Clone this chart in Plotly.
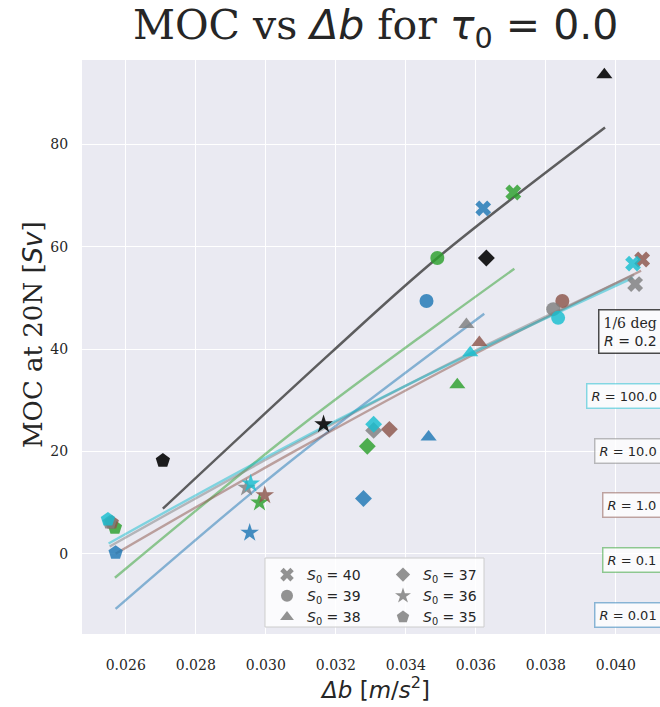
import plotly.graph_objects as go

# ---------------- data ----------------
series_names = ["R = 0.01", "R = 0.1", "R = 1.0", "R = 10.0", "R = 100.0", "1/6 deg R = 0.2"]
series_colors = ["#1f77b4", "#2ca02c", "#8c564b", "#7f7f7f", "#17becf", "#111111"]

s0_labels = ["40", "39", "38", "37", "36", "35"]
s0_symbols = ["x", "circle", "triangle-up", "diamond", "star", "pentagon"]
s0_sizes = [14, 14, 14, 13, 14, 15]

# marker values, order S0 = 40, 39, 38, 37, 36, 35  (None = not present)
db_R001 = [0.03621, 0.03459, 0.03465, 0.03279, 0.02954, 0.02571]
moc_R001 = [67.5, 49.4, 22.8, 10.8, 4.1, 0.2]
db_R01 = [0.03707, 0.03490, 0.03547, 0.03290, 0.02982, 0.02569]
moc_R01 = [70.6, 57.8, 33.0, 21.0, 10.0, 5.1]
db_R1 = [0.04075, 0.03847, 0.03610, 0.03353, 0.02997, 0.02560]
moc_R1 = [57.5, 49.4, 41.3, 24.3, 11.4, 6.1]
db_R10 = [0.04055, 0.03821, 0.03573, 0.03308, 0.02945, 0.02554]
moc_R10 = [52.7, 47.8, 44.8, 24.1, 12.9, 6.1]
db_R100 = [0.04049, 0.03835, 0.03584, 0.03308, 0.02957, 0.02549]
moc_R100 = [56.7, 46.1, 39.3, 25.3, 13.7, 6.7]
db_hr = [None, None, 0.03967, 0.03630, 0.03165, 0.02706]
moc_hr = [None, None, 93.6, 57.8, 25.3, 18.2]

# fitted curves
fit_db_R001 = [0.02571, 0.03042, 0.03624]
fit_moc_R001 = [-10.8, 16.5, 46.9]
fit_db_R01 = [0.02569, 0.03099, 0.03504, 0.03710]
fit_moc_R01 = [-4.7, 24.9, 45.5, 55.7]
fit_db_R1 = [0.02571, 0.03071, 0.03584, 0.04072]
fit_moc_R1 = [0.0, 19.6, 38.6, 55.3]
fit_db_R10 = [0.02554, 0.03071, 0.03584, 0.04052]
fit_moc_R10 = [1.4, 21.0, 39.2, 54.5]
fit_db_R100 = [0.02551, 0.03071, 0.03584, 0.04049]
fit_moc_R100 = [2.0, 21.4, 39.0, 53.9]
fit_db_hr = [0.02706, 0.03185, 0.03490, 0.03969]
fit_moc_hr = [8.8, 39.2, 57.8, 83.3]

x_ticks = [0.026, 0.028, 0.030, 0.032, 0.034, 0.036, 0.038, 0.040]
x_ticktext = ["0.026", "0.028", "0.030", "0.032", "0.034", "0.036", "0.038", "0.040"]
y_ticks = [0, 20, 40, 60, 80]
y_ticktext = ["0", "20", "40", "60", "80"]

# ---------------- figure ----------------
W, H = 660, 707
L, R, T, B = 82, 0, 60, 73
PW, PH = W - L - R, H - T - B


def px_x(px):
    return (px - L) / PW


def px_y(py):
    return (H - B - py) / PH


BG = "#EAEAF2"
SERIF = "DejaVu Serif"
SANS = "DejaVu Sans"
TXT = "#262626"

fig = go.Figure()

marker_sets = [
    (db_R001, moc_R001), (db_R01, moc_R01), (db_R1, moc_R1),
    (db_R10, moc_R10), (db_R100, moc_R100), (db_hr, moc_hr),
]
fit_sets = [
    (fit_db_R001, fit_moc_R001), (fit_db_R01, fit_moc_R01), (fit_db_R1, fit_moc_R1),
    (fit_db_R10, fit_moc_R10), (fit_db_R100, fit_moc_R100), (fit_db_hr, fit_moc_hr),
]

# fit lines
for i, (fx, fy) in enumerate(fit_sets):
    is_hr = i == 5
    fig.add_trace(go.Scatter(
        x=fx, y=fy, mode="lines", line_shape="spline",
        line=dict(color="#3a3a3a" if is_hr else series_colors[i], width=2.5 if is_hr else 2.4),
        opacity=0.8 if is_hr else 0.5, showlegend=False, hoverinfo="skip"))

# markers
for i, (mx, my) in enumerate(marker_sets):
    for j in range(len(s0_labels)):
        if mx[j] is None:
            continue
        fig.add_trace(go.Scatter(
            x=[mx[j]], y=[my[j]], mode="markers",
            marker=dict(symbol=s0_symbols[j], size=s0_sizes[j], color=series_colors[i],
                        opacity=0.95 if i == 5 else 0.82, line=dict(width=0)),
            showlegend=False, hoverinfo="skip"))

# legend entries (grey symbols), two columns via two legends
for j in range(len(s0_labels)):
    fig.add_trace(go.Scatter(
        x=[None], y=[None], mode="markers",
        marker=dict(symbol=s0_symbols[j], size=s0_sizes[j] - 2, color="#7f7f7f", opacity=0.85,
                    line=dict(width=0)),
        name=f"<i>S</i><sub>0</sub> = {s0_labels[j]}",
        legend="legend" if j < 3 else "legend2"))

leg_common = dict(bgcolor="rgba(0,0,0,0)", borderwidth=0, yanchor="top", xanchor="left",
                  font=dict(family=SANS, size=14, color=TXT), tracegroupgap=0,
                  itemsizing="trace")
fig.update_layout(
    legend=dict(x=px_x(267), y=px_y(559), **leg_common),
    legend2=dict(x=px_x(383), y=px_y(559), **leg_common),
)

# legend frame
fig.add_shape(type="rect", xref="paper", yref="paper",
              x0=px_x(265), x1=px_x(484), y0=px_y(627), y1=px_y(558),
              fillcolor="rgba(255,255,255,0.8)", line=dict(color="#cccccc", width=1),
              layer="above")

# R labels
r_labels = [
    ("<span style=\"font-family:'DejaVu Serif'\">1/6 deg</span><br><i>R</i> = 0.2", 331, "rgba(17,17,17,0.75)", 14),
    ("<i>R</i> = 100.0", 395.5, "rgba(23,190,207,0.5)", 13),
    ("<i>R</i> = 10.0", 450.5, "rgba(127,127,127,0.5)", 13),
    ("<i>R</i> = 1.0", 505, "rgba(140,86,75,0.5)", 13),
    ("<i>R</i> = 0.1", 560, "rgba(44,160,44,0.5)", 13),
    ("<i>R</i> = 0.01", 615, "rgba(31,119,180,0.5)", 13),
]
for text, cy, bc, fs in r_labels:
    fig.add_annotation(xref="paper", yref="paper", x=px_x(662), y=px_y(cy),
                       xanchor="right", yanchor="middle", text=text, showarrow=False,
                       align="right", font=dict(family=SANS, size=fs, color=TXT),
                       bgcolor="rgba(255,255,255,0.75)", bordercolor=bc, borderwidth=1.5,
                       borderpad=4)

# title and axis titles
fig.add_annotation(xref="paper", yref="paper", x=px_x(375), y=px_y(28), xanchor="center",
                   yanchor="middle", showarrow=False,
                   text="MOC vs <span style=\"font-family:'DejaVu Sans'\"><i>Δb</i></span> for "
                        "<span style=\"font-family:'DejaVu Sans'\"><i>τ</i><sub>0</sub> = 0.0</span>",
                   font=dict(family=SERIF, size=41, color=TXT))
fig.add_annotation(xref="paper", yref="paper", x=px_x(33), y=px_y(335), xanchor="center",
                   yanchor="middle", showarrow=False, textangle=-90,
                   text="MOC at 20N [<span style=\"font-family:'DejaVu Sans'\"><i>Sv</i></span>]",
                   font=dict(family=SERIF, size=26, color=TXT))
fig.add_annotation(xref="paper", yref="paper", x=px_x(375), y=px_y(688), xanchor="center",
                   yanchor="middle", showarrow=False,
                   text="<i>Δb</i> [<i>m</i>/<i>s</i><sup>2</sup>]",
                   font=dict(family=SANS, size=23, color=TXT))

fig.update_layout(
    width=W, height=H, margin=dict(l=L, r=R, t=T, b=B, pad=0),
    paper_bgcolor="white", plot_bgcolor=BG, showlegend=True,
    xaxis=dict(range=[0.02475, 0.04126], tickvals=x_ticks, ticktext=x_ticktext,
               showgrid=True, gridcolor="white", gridwidth=1.3, zeroline=False,
               ticks="outside", ticklen=18, tickcolor="rgba(0,0,0,0)", showline=False,
               tickfont=dict(family=SERIF, size=14, color=TXT)),
    yaxis=dict(range=[-15.7, 96.5], tickvals=y_ticks, ticktext=y_ticktext,
               showgrid=True, gridcolor="white", gridwidth=1.3, zeroline=False,
               ticks="outside", ticklen=10, tickcolor="rgba(0,0,0,0)", showline=False,
               tickfont=dict(family=SERIF, size=14, color=TXT)),
)

fig.write_html("out.html")
